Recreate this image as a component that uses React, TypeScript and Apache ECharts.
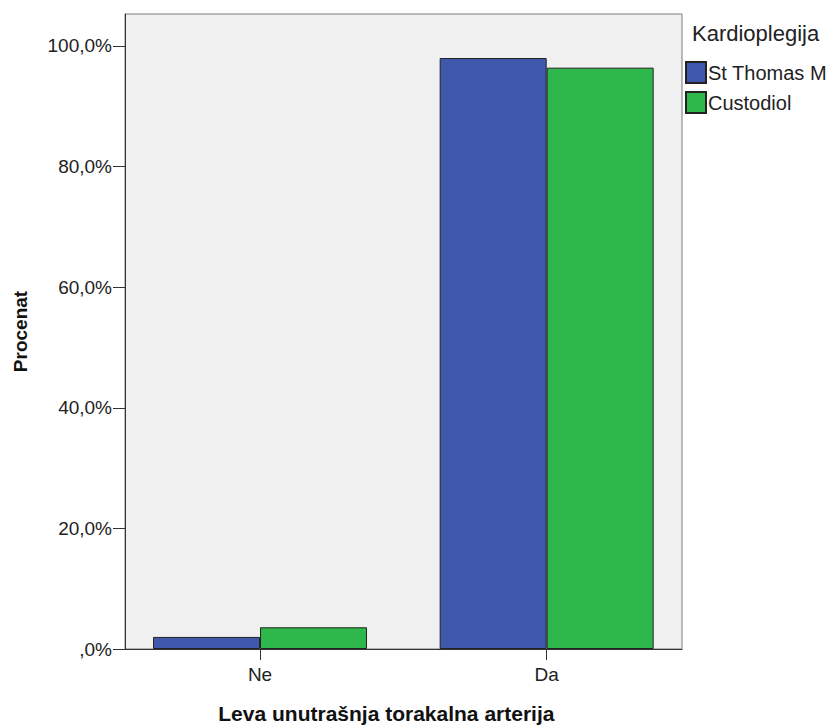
import React, { useEffect, useRef } from "react";
import * as echarts from "echarts";

const categories = ["Ne", "Da"];
const seriesNames = ["St Thomas M", "Custodiol"];
const stThomas = [2.0, 98.0];
const custodiol = [3.6, 96.4];
const yTicks = [0, 20, 40, 60, 80, 100];
const colors = ["#3e58ac", "#2eb84b"];

const FONT = "'Liberation Sans', Arial, sans-serif";

export default function App() {
  const ref = useRef<HTMLDivElement>(null);
  useEffect(() => {
    if (!ref.current) return;
    const chart = echarts.init(ref.current, undefined, { renderer: "svg" });
    const fmt = (v: number) => (v === 0 ? ",0%" : v.toFixed(1).replace(".", ",") + "%");
    chart.setOption({
      animation: false,
      textStyle: { fontFamily: FONT },
      title: {
        text: "Kardioplegija",
        left: 692,
        top: 22,
        padding: 0,
        textStyle: { fontSize: 22, fontWeight: "normal", color: "#222", fontFamily: FONT },
      },
      legend: {
        orient: "vertical",
        left: 685,
        top: 61,
        padding: 0,
        itemWidth: 20,
        itemHeight: 21,
        itemGap: 7,
        icon: "rect",
        data: seriesNames,
        textStyle: { fontSize: 20, color: "#222", fontFamily: FONT, padding: [0, 0, 0, -3] },
      },
      grid: [
        {
          left: 125,
          top: 14,
          width: 557,
          height: 635,
          show: true,
          backgroundColor: "#f0f0f0",
          borderColor: "#7a7a7a",
          borderWidth: 1,
          containLabel: false,
          outerBoundsMode: "none",
        },
        {
          left: 116.7,
          top: 14,
          width: 573.3,
          height: 635,
          show: false,
          containLabel: false,
          outerBoundsMode: "none",
        },
      ],
      xAxis: [
        {
          gridIndex: 0,
          type: "value",
          min: 0,
          max: 1,
          axisLine: { show: true, lineStyle: { color: "#333", width: 1 } },
          axisTick: { show: false },
          axisLabel: { show: false },
          splitLine: { show: false },
        },
        {
          gridIndex: 1,
          type: "category",
          data: categories,
          axisLine: { show: false },
          axisTick: { show: true, alignWithLabel: true, length: 11, lineStyle: { color: "#333" } },
          axisLabel: { fontSize: 19, color: "#222", margin: 16, fontFamily: FONT },
          name: "Leva unutrašnja torakalna arterija",
          nameLocation: "middle",
          nameGap: 54,
          nameTextStyle: {
            fontSize: 21,
            fontWeight: "bold",
            color: "#111",
            fontFamily: FONT,
            padding: [0, 34, 0, 0],
          },
        },
      ],
      yAxis: [
        {
          gridIndex: 0,
          type: "value",
          min: 0,
          max: 105.3,
          axisLine: { show: true, lineStyle: { color: "#333", width: 1 } },
          axisTick: { show: true, length: 12, lineStyle: { color: "#333" }, customValues: yTicks },
          axisLabel: {
            fontSize: 19,
            color: "#222",
            margin: 13,
            customValues: yTicks,
            formatter: fmt,
            fontFamily: FONT,
          },
          splitLine: { show: false },
          name: "Procenat",
          nameLocation: "middle",
          nameGap: 95,
          nameTextStyle: { fontSize: 19, fontWeight: "bold", color: "#111", fontFamily: FONT },
        },
        { gridIndex: 1, type: "value", min: 0, max: 105.3, show: false },
      ],
      series: [
        {
          name: seriesNames[0],
          type: "bar",
          xAxisIndex: 1,
          yAxisIndex: 1,
          data: stThomas,
          barWidth: 107,
          barGap: "0%",
          itemStyle: { color: colors[0], borderColor: "#222", borderWidth: 1 },
        },
        {
          name: seriesNames[1],
          type: "bar",
          xAxisIndex: 1,
          yAxisIndex: 1,
          data: custodiol,
          barWidth: 107,
          barGap: "0%",
          itemStyle: { color: colors[1], borderColor: "#222", borderWidth: 1 },
        },
      ],
    });
    return () => chart.dispose();
  }, []);
  return (
    <div
      ref={ref}
      style={{ position: "fixed", left: 0, top: 0, width: 839, height: 726, background: "#fff" }}
    />
  );
}
